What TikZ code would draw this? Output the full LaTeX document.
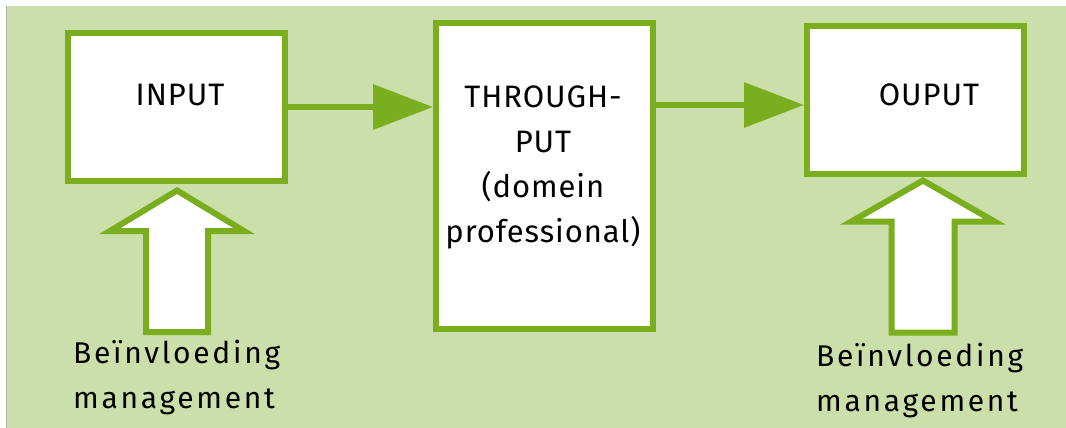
\documentclass[tikz,border=0pt]{standalone}
\usepackage{fontspec}
\setmainfont{Fira Sans}[LetterSpace=3]
\newfontfamily\notefont{Fira Sans}[LetterSpace=9]
\usetikzlibrary{arrows.meta}
\definecolor{leafgreen}{RGB}{122,174,31}
\definecolor{palegreen}{RGB}{202,223,169}
\begin{document}
\begin{tikzpicture}[
		x=1pt, y=-1pt,
		box/.style={draw=leafgreen, line width=6pt, fill=white, minimum width=217pt, minimum height=148pt, inner sep=0pt},
		boxtext/.style={font=\fontsize{31}{45}\selectfont, anchor=base, align=center, inner sep=0pt},
		note/.style={font=\notefont\fontsize{30}{45}\selectfont, anchor=base west, align=left, inner sep=0pt},
		flow/.style={draw=leafgreen, line width=6.5pt, -{Triangle[length=60pt,width=44pt]}},
		hollow/.style={draw=leafgreen, line width=6pt, fill=white, line join=miter}
	]
	\useasboundingbox (0,0) rectangle (1066,428);
	\fill[white] (0,0) rectangle (1066,428);
	\fill[palegreen] (7,6) rectangle (1066,428);
	\draw[gray!60, line width=1pt] (6.5,6) -- (6.5,428);

	\node[box] (input) at (176,107) {};
	\node[box, minimum height=306pt] (through) at (544.5,176) {};
	\node[box] (output) at (915.5,100) {};

	\node[boxtext] (inputtext) at (180,106) {INPUT};
	\node[boxtext] (throughtext) at (543,242) {THROUGH-\\PUT\\(domein\\professional)};
	\node[boxtext] (outputtext) at (929,105) {OUPUT};

	\draw[flow] (input.east) -- (input.east -| through.west);
	\draw[flow] ([yshift=-5pt]output.west -| through.east) -- ([yshift=-5pt]output.west);

	\draw[hollow] ([shift={(1,6.5)}]input.south) -- ++(-67,40.5) -- ++(36,0) -- ++(0,101)
		-- ++(62,0) -- ++(0,-101) -- ++(36,0) -- cycle;
	\draw[hollow] ([shift={(7.5,3.5)}]output.south) -- ++(-71.5,41) -- ++(40,0) -- ++(0,111)
		-- ++(63,0) -- ++(0,-111) -- ++(40,0) -- cycle;

	\node[note] (leftnote) at (73,408) {Beïnvloeding\\management};
	\node[note] (rightnote) at (816,411) {Beïnvloeding\\management};
\end{tikzpicture}
\end{document}
